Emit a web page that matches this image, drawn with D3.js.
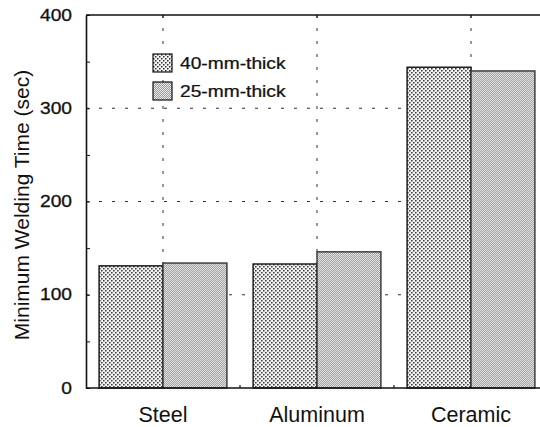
<!DOCTYPE html>
<html>
<head>
<meta charset="utf-8">
<script src="https://cdn.jsdelivr.net/npm/d3@7"></script>
<style>
  html, body { margin: 0; padding: 0; background: #fff; }
  svg { display: block; font-family: "Liberation Sans", Arial, Helvetica, sans-serif; }
</style>
</head>
<body>
<svg id="chart" width="540" height="427"></svg>
<script>
// Minimum welding time by plate material and thickness
const categories = ["Steel", "Aluminum", "Ceramic"];
const seriesNames = ["40-mm-thick", "25-mm-thick"];
const thick40 = [131, 133, 344];
const thick25 = [134, 146, 340];
const yTickLabels = [0, 100, 200, 300, 400];
const yMinorTicks = [50, 150, 250, 350];
const gridValues = [100, 200, 300];

const svg = d3.select("#chart");
const plotLeft = 86, plotRight = 548, plotTop = 15, plotBottom = 388;

const y = d3.scaleLinear().domain([0, 400]).range([plotBottom, plotTop]);
const x0 = d3.scaleBand().domain(categories).range([plotLeft, plotRight])
  .paddingInner(0.17).paddingOuter(0.085);
const x1 = d3.scaleBand().domain(seriesNames).range([0, x0.bandwidth()]);

// fill patterns: regular dot screen and a fine grey stipple
const defs = svg.append("defs");
const dots = defs.append("pattern").attr("id", "pat40")
  .attr("patternUnits", "userSpaceOnUse").attr("width", 4).attr("height", 4);
dots.append("rect").attr("width", 4).attr("height", 4).attr("fill", "#f6f6f6");
dots.append("rect").attr("x", 0).attr("y", 0).attr("width", 1.5).attr("height", 1.5).attr("fill", "#2a2a2a");
dots.append("rect").attr("x", 2).attr("y", 2).attr("width", 1.5).attr("height", 1.5).attr("fill", "#2a2a2a");

const stip = defs.append("pattern").attr("id", "pat25")
  .attr("patternUnits", "userSpaceOnUse").attr("width", 2).attr("height", 2);
stip.append("rect").attr("width", 2).attr("height", 2).attr("fill", "#ebebeb");
stip.append("rect").attr("x", 0).attr("y", 0).attr("width", 1).attr("height", 1).attr("fill", "#9a9a9a");
stip.append("rect").attr("x", 1).attr("y", 1).attr("width", 1).attr("height", 1).attr("fill", "#9a9a9a");

const fills = { "40-mm-thick": "url(#pat40)", "25-mm-thick": "url(#pat25)" };
const strokes = { "40-mm-thick": "#111", "25-mm-thick": "#333" };

// dashed grid, behind the bars
svg.append("g").selectAll("line").data(gridValues).join("line")
  .attr("x1", plotLeft).attr("x2", plotRight)
  .attr("y1", d => y(d)).attr("y2", d => y(d))
  .attr("stroke", "#333").attr("stroke-width", 1).attr("stroke-dasharray", "3,10");
svg.append("g").selectAll("line").data(categories).join("line")
  .attr("x1", d => x0(d) + x0.bandwidth() / 2).attr("x2", d => x0(d) + x0.bandwidth() / 2)
  .attr("y1", plotTop).attr("y2", plotBottom)
  .attr("stroke", "#333").attr("stroke-width", 1).attr("stroke-dasharray", "3,10");

// bars
const rows = categories.map((c, i) => ({ cat: c, vals: [
  { s: seriesNames[0], v: thick40[i] },
  { s: seriesNames[1], v: thick25[i] }
]}));
const groups = svg.append("g").selectAll("g").data(rows).join("g")
  .attr("transform", d => `translate(${x0(d.cat)},0)`);
groups.selectAll("rect").data(d => d.vals).join("rect")
  .attr("x", d => x1(d.s))
  .attr("y", d => y(d.v))
  .attr("width", x1.bandwidth())
  .attr("height", d => y(0) - y(d.v))
  .attr("fill", d => fills[d.s])
  .attr("stroke", d => strokes[d.s])
  .attr("stroke-width", 1.4);

// frame lines
svg.append("line").attr("x1", plotLeft).attr("x2", plotRight).attr("y1", plotTop).attr("y2", plotTop)
  .attr("stroke", "#111").attr("stroke-width", 1.3);
svg.append("line").attr("x1", plotLeft).attr("x2", plotRight).attr("y1", plotBottom).attr("y2", plotBottom)
  .attr("stroke", "#111").attr("stroke-width", 1.6);

// small ticks on the top edge at group centres, and on the bottom edge between groups
svg.append("g").selectAll("line").data(categories).join("line")
  .attr("x1", d => x0(d) + x0.bandwidth() / 2).attr("x2", d => x0(d) + x0.bandwidth() / 2)
  .attr("y1", plotTop).attr("y2", plotTop + 3).attr("stroke", "#111").attr("stroke-width", 1);
svg.append("g").selectAll("line").data(categories.slice(1)).join("line")
  .attr("x1", d => x0(d) - x0.step() * x0.paddingInner() / 2)
  .attr("x2", d => x0(d) - x0.step() * x0.paddingInner() / 2)
  .attr("y1", plotBottom).attr("y2", plotBottom - 3).attr("stroke", "#111").attr("stroke-width", 1.2);

// y axis with inward ticks
const yAxis = svg.append("g").attr("transform", `translate(${plotLeft},0)`)
  .call(d3.axisLeft(y).tickValues(yTickLabels).tickSizeInner(-4).tickSizeOuter(0).tickPadding(0));
yAxis.select(".domain").attr("stroke", "#111").attr("stroke-width", 1.6);
yAxis.selectAll(".tick line").attr("stroke", "#111");
yAxis.selectAll(".tick text")
  .attr("x", null)
  .attr("transform", "translate(-14,0) scale(1.2,1)")
  .attr("font-size", 16).attr("fill", "#111")
  .attr("stroke", "#111").attr("stroke-width", 0.3)
  .attr("font-family", "Liberation Sans, Arial, sans-serif");
svg.append("g").attr("transform", `translate(${plotLeft},0)`)
  .call(d3.axisLeft(y).tickValues(yMinorTicks).tickSizeInner(-4).tickSizeOuter(0).tickFormat(""))
  .call(g => g.select(".domain").remove())
  .selectAll(".tick line").attr("stroke", "#111");

// category labels
svg.append("g").selectAll("text").data(categories).join("text")
  .attr("x", d => x0(d) + x0.bandwidth() / 2)
  .attr("y", 422)
  .attr("text-anchor", "middle")
  .attr("font-size", 21.5).attr("fill", "#111")
  .text(d => d);

// y axis title
svg.append("text")
  .attr("transform", "translate(29,205) rotate(-90)")
  .attr("text-anchor", "middle")
  .attr("font-size", 21).attr("fill", "#111")
  .text("Minimum Welding Time (sec)");

// legend
const legend = svg.append("g").selectAll("g").data(seriesNames).join("g")
  .attr("transform", (d, i) => `translate(153,${54 + i * 28})`);
legend.append("rect").attr("width", 19).attr("height", 18)
  .attr("fill", d => fills[d]).attr("stroke", "#111").attr("stroke-width", 1.2);
legend.append("text")
  .attr("transform", "translate(27,15) scale(1.2,1)")
  .attr("font-size", 16).attr("fill", "#111")
  .attr("stroke", "#111").attr("stroke-width", 0.25)
  .text(d => d);
</script>
</body>
</html>
